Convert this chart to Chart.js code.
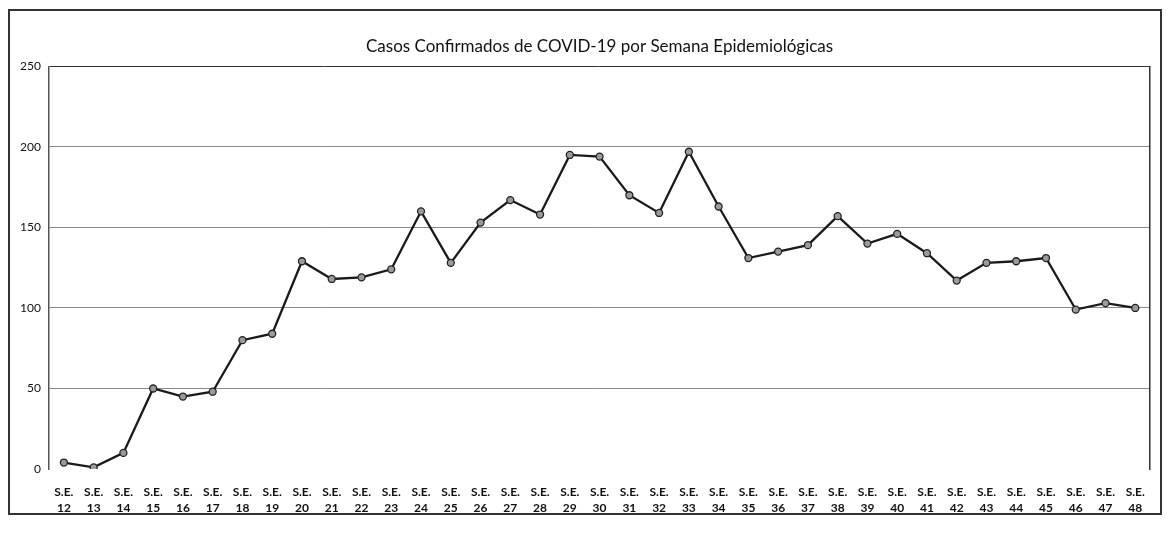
<!DOCTYPE html>
<html>
<head>
<meta charset="utf-8">
<script src="https://cdn.jsdelivr.net/npm/chart.js@4"></script>
<style>
  html, body { margin: 0; padding: 0; background: #fff; }
  #frame {
    position: absolute; left: 8px; top: 9px;
    width: 1154px; height: 506px;
    box-sizing: border-box;
    border: 2px solid #333;
  }
  #frame canvas { display: block; }
</style>
</head>
<body>
<div id="frame"><canvas id="casosChart" width="1150" height="502"></canvas></div>
<script>
// semanas epidemiologicas 12..48
const semanas = [12, 13, 14, 15, 16, 17, 18, 19, 20, 21, 22, 23, 24, 25, 26, 27, 28, 29, 30,
                 31, 32, 33, 34, 35, 36, 37, 38, 39, 40, 41, 42, 43, 44, 45, 46, 47, 48];
const casos = [4, 1, 10, 50, 45, 48, 80, 84, 129, 118, 119, 124, 160, 128, 153, 167, 158, 195, 194,
               170, 159, 197, 163, 131, 135, 139, 157, 140, 146, 134, 117, 128, 129, 131, 99, 103, 100];
const yTicks = [0, 50, 100, 150, 200, 250];

const titulo = "Casos Confirmados de COVID-19 por Semana Epidemiológicas";
const fuente = "Lato";

const labels = semanas.map(s => ["S.E.", String(s)]);

const ctx = document.getElementById("casosChart").getContext("2d");
const casosChart = new Chart(ctx, {
    type: "line",
    data: {
        labels: labels,
        datasets: [{
            label: "Casos",
            data: casos,
            borderColor: "#1a1a1a",
            borderWidth: 2.3,
            pointRadius: 3.5,
            pointBackgroundColor: "#9a9a9a",
            pointBorderColor: "#222",
            pointBorderWidth: 1.3,
            tension: 0
        }]
    },
    options: {
        responsive: false,
        animation: false,
        layout: { padding: { left: 0, right: 4, top: 0, bottom: 0 } },
        plugins: {
            legend: { display: false },
            tooltip: { enabled: false },
            title: {
                display: true,
                text: titulo,
                fullSize: false,
                color: "#111",
                font: { family: fuente, size: 17, weight: "normal" },
                padding: { top: 25, bottom: 10 }
            }
        },
        scales: {
            x: {
                offset: true,
                grid: { display: false, drawTicks: false },
                border: { display: false },
                ticks: {
                    autoSkip: false,
                    maxRotation: 0,
                    padding: 15,
                    color: "#111",
                    font: { family: fuente, size: 12, weight: "bold", lineHeight: 1.35 }
                },
                afterFit(axis) { axis.height = 44; }
            },
            y: {
                min: 0,
                max: 250,
                afterBuildTicks(axis) { axis.ticks = yTicks.map(v => ({ value: v })); },
                grid: {
                    drawTicks: false,
                    lineWidth: 1,
                    color: c => c.tick.value === 250 ? "#333" : (c.tick.value === 0 ? "rgba(0,0,0,0)" : "#8a8a8a")
                },
                border: { display: true, color: "#555", width: 1.5 },
                ticks: {
                    padding: 8,
                    color: "#111",
                    font: { family: fuente, size: 12 }
                },
                afterFit(axis) { axis.width = 39; }
            },
            yRight: {
                position: "right",
                min: 0,
                max: 250,
                grid: { display: false, drawTicks: false },
                border: { display: true, color: "#333", width: 1.5 },
                ticks: { display: false },
                afterFit(axis) { axis.width = 0; }
            }
        }
    }
});
</script>
</body>
</html>
